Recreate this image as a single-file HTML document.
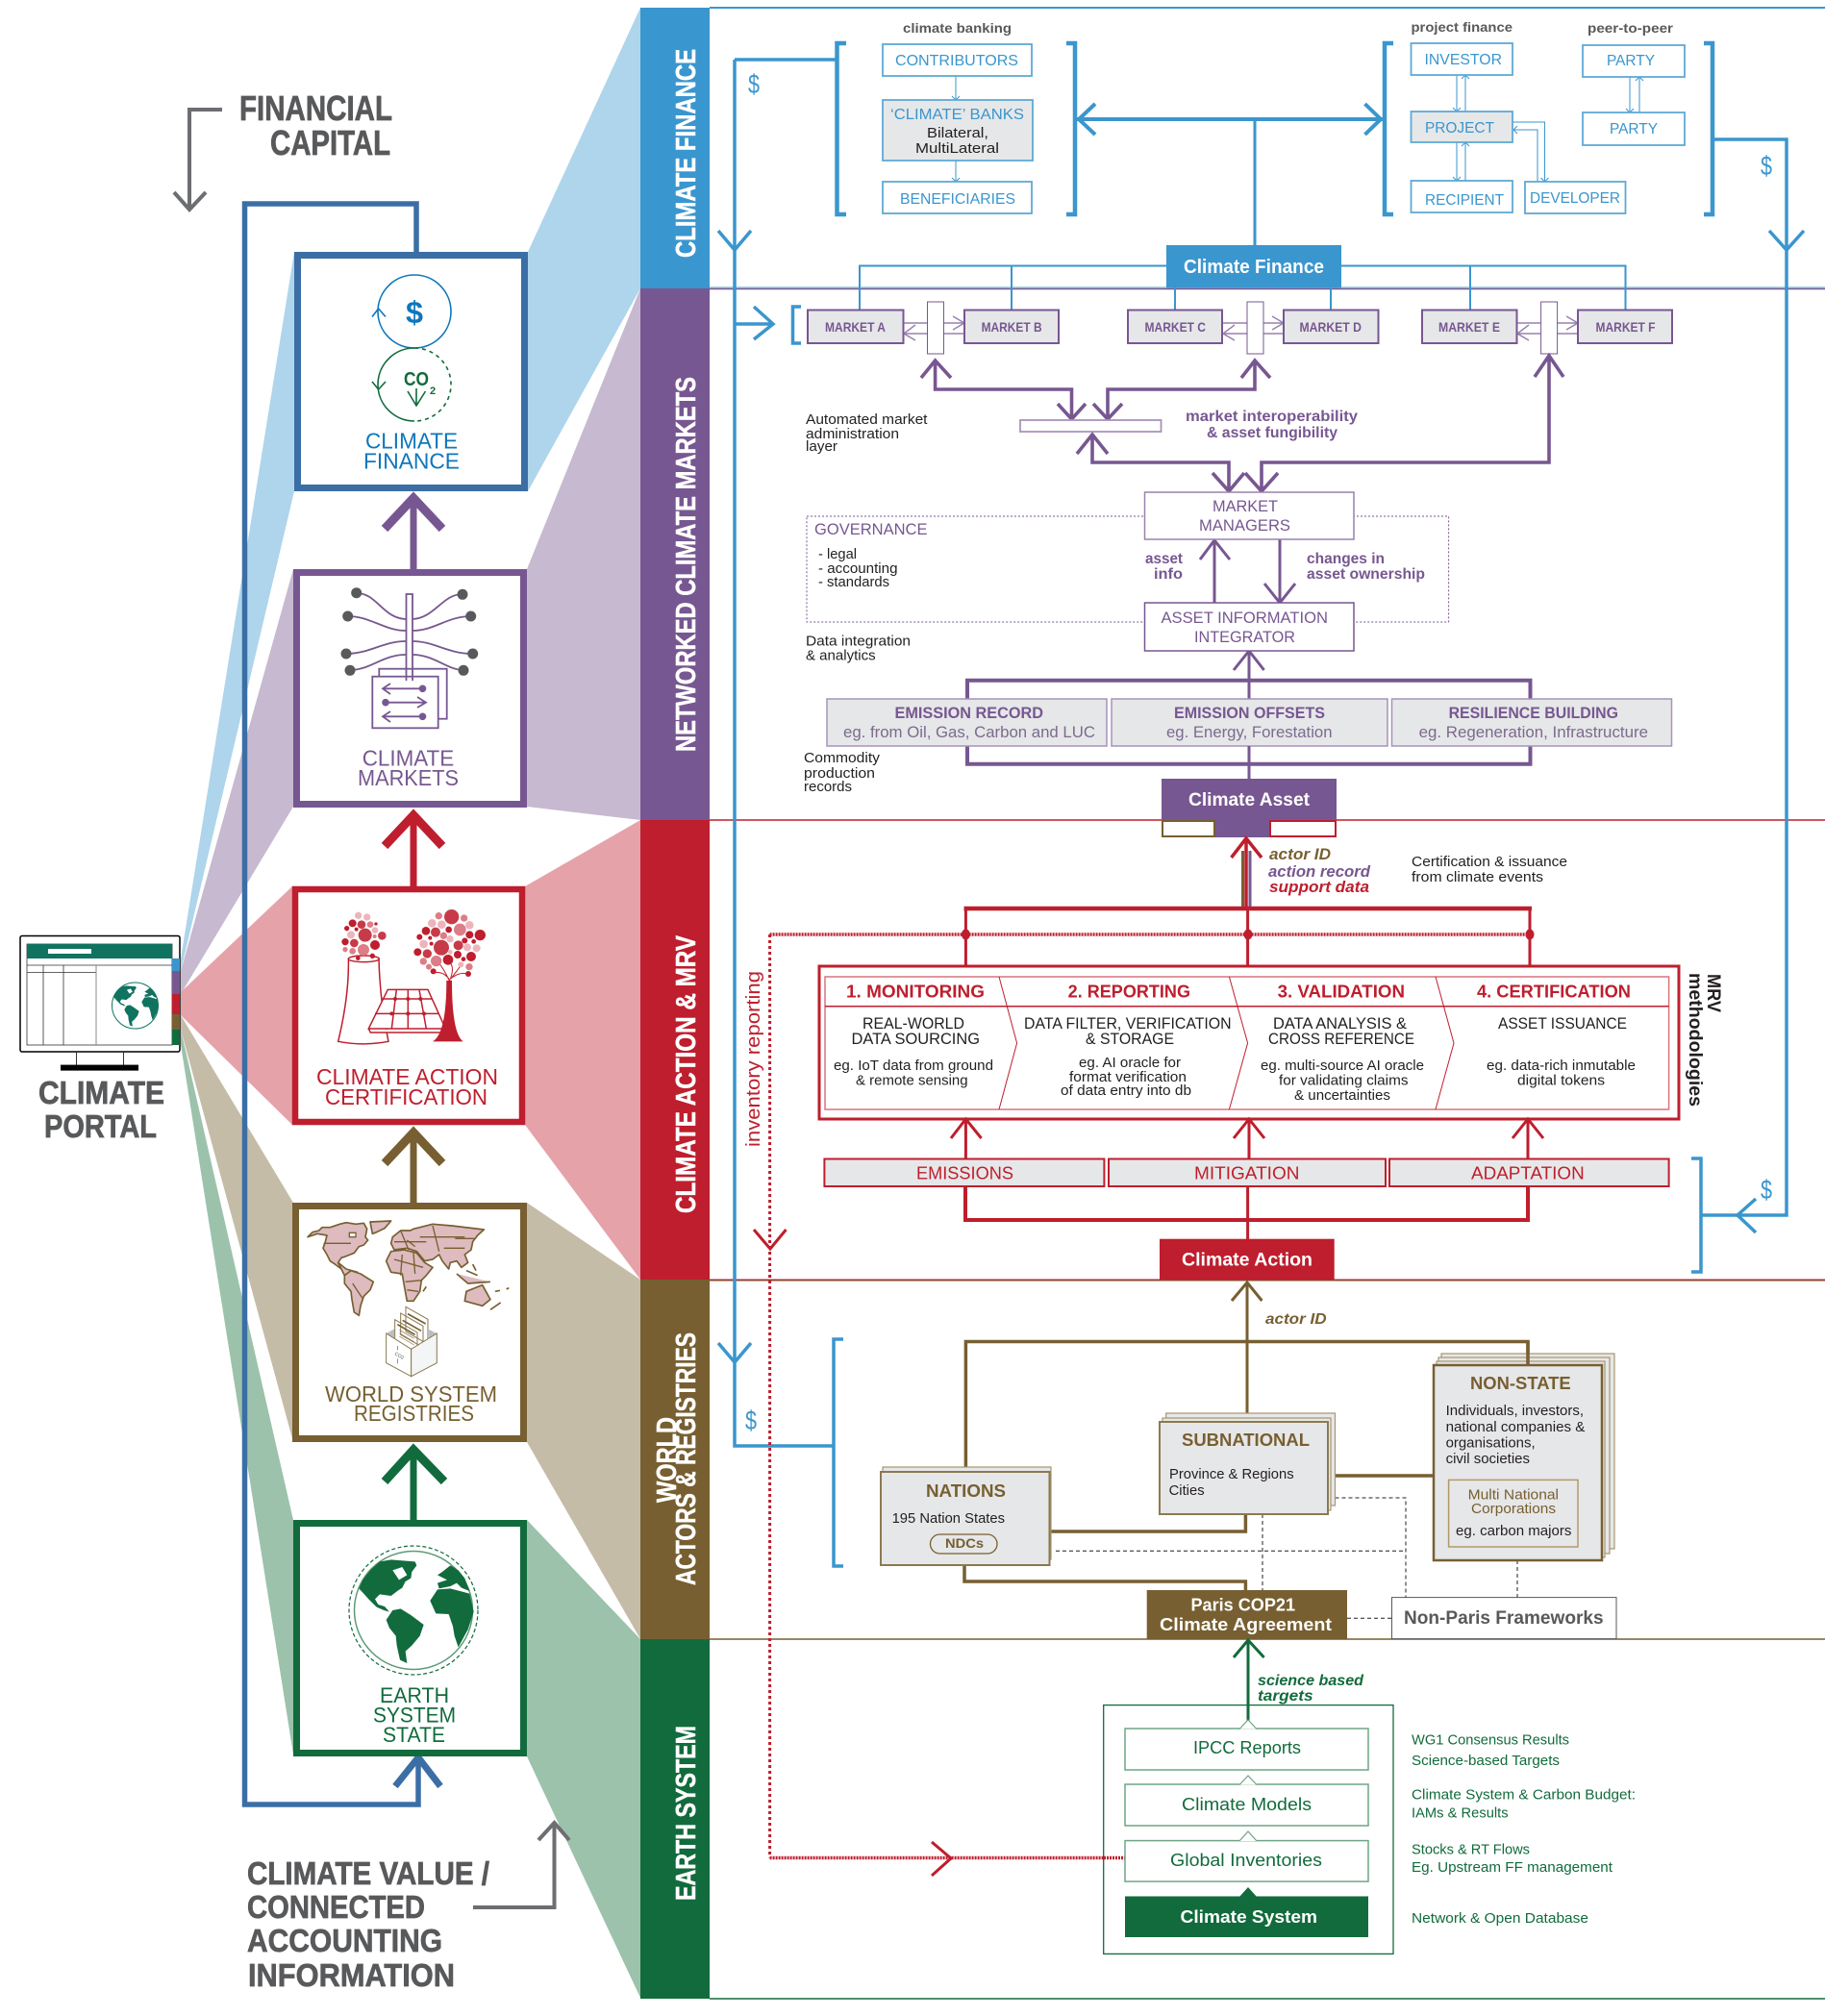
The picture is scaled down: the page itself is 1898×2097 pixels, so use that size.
<!DOCTYPE html>
<html><head><meta charset="utf-8"><style>
html,body{margin:0;padding:0;background:#fff}
svg{display:block}
text{font-family:"Liberation Sans",sans-serif;white-space:pre}
.b{font-weight:bold}.i{font-style:italic}
.wh{fill:#fff}.bl{fill:#3A96CE}.pu{fill:#775791}.re{fill:#BE1E2D}.br{fill:#775F31}.gr{fill:#126B3C}.dk{fill:#58595b}.k{fill:#231f20}
.hd{stroke:#58595b;stroke-width:.7}
.bd{stroke:#fff;stroke-width:.5}
.ln{fill:none;stroke-linejoin:miter}
</style></head><body>
<svg xmlns="http://www.w3.org/2000/svg" width="1898" height="2097" viewBox="0 0 1898 2097">
<defs>
<g id="cont">
<path d="M100,172 L112,145 L135,115 L165,88 L200,82 L275,88 L280,100 L265,120 L262,140 L245,150 L235,170 L222,178 L200,195 L165,190 L150,205 L160,222 L180,228 L195,245 L178,240 L155,230 L130,205 L112,185 Z"/>
<path d="M185,270 L205,240 L230,235 L262,255 L302,285 L290,320 L265,350 L245,368 L250,405 L228,395 L218,350 L215,320 L195,295 Z"/>
<path d="M322,210 L345,175 L385,172 L445,188 L458,245 L440,300 L410,355 L398,320 L393,290 L380,252 L340,250 Z"/>
<path d="M345,130 L360,120 L385,100 L410,115 L430,140 L445,180 L420,170 L405,155 L385,165 L350,172 L345,155 L375,145 Z"/>
<path fill="#fff" d="M205,115 L235,105 L250,130 L225,145 Z"/>
</g>
</defs>
<rect width="1898" height="2097" fill="#fff"/>

<!-- fans -->
<polygon fill="#AED5EB" points="666,8 666,300 549,511 549,262"/>
<polygon fill="#AED5EB" points="306,262 306,511 188,1010 188,997"/>
<polygon fill="#C6B9D0" points="666,300 666,853 548,839 548,592"/>
<polygon fill="#C6B9D0" points="305,592 305,839 188,1034 188,1010"/>
<polygon fill="#E6A2A9" points="666,853 666,1331 546,1170 546,922"/>
<polygon fill="#E6A2A9" points="304,922 304,1170 188,1056 188,1032"/>
<polygon fill="#C5BCA8" points="666,1331 666,1705 548,1500 548,1251"/>
<polygon fill="#C5BCA8" points="305,1251 305,1500 188,1071 188,1056"/>
<polygon fill="#9CC2AC" points="666,1705 666,2078 548,1827 548,1581"/>
<polygon fill="#9CC2AC" points="305,1581 305,1825 188,1087 188,1071"/>

<!-- bands -->
<rect x="666" y="8" width="72" height="292" fill="#3A96CE"/>
<rect x="666" y="300" width="72" height="553" fill="#775791"/>
<rect x="666" y="853" width="72" height="478" fill="#BE1E2D"/>
<rect x="666" y="1331" width="72" height="374" fill="#775F31"/>
<rect x="666" y="1705" width="72" height="374" fill="#126B3C"/>
<text class="b wh bd" font-size="29" transform="translate(723 268) rotate(-90)" textLength="217" lengthAdjust="spacingAndGlyphs">CLIMATE FINANCE</text>
<text class="b wh bd" font-size="29" transform="translate(723 782) rotate(-90)" textLength="390" lengthAdjust="spacingAndGlyphs">NETWORKED CLIMATE MARKETS</text>
<text class="b wh bd" font-size="29" transform="translate(723 1262) rotate(-90)" textLength="289" lengthAdjust="spacingAndGlyphs">CLIMATE ACTION &amp; MRV</text>
<text class="b wh bd" font-size="29" transform="translate(703 1563) rotate(-90)" textLength="89" lengthAdjust="spacingAndGlyphs">WORLD</text>
<text class="b wh bd" font-size="29" transform="translate(723 1649) rotate(-90)" textLength="263" lengthAdjust="spacingAndGlyphs">ACTORS &amp; REGISTRIES</text>
<text class="b wh bd" font-size="29" transform="translate(723 1977) rotate(-90)" textLength="182" lengthAdjust="spacingAndGlyphs">EARTH SYSTEM</text>

<!-- horizontal panel lines -->
<path class="ln" stroke="#3A96CE" stroke-width="2" d="M738,8 H1898"/>
<path class="ln" stroke="#8CC3E2" stroke-width="1.5" d="M738,299 H1898"/>
<path class="ln" stroke="#775791" stroke-width="1.5" d="M738,300.5 H1898"/>
<path class="ln" stroke="#BE1E2D" stroke-width="1.5" d="M738,853 H1898"/>
<path class="ln" stroke="#BE1E2D" stroke-width="1" d="M738,1331 H1898"/>
<path class="ln" stroke="#775F31" stroke-width="1" d="M738,1332 H1898"/>
<path class="ln" stroke="#775F31" stroke-width="1.5" d="M738,1705 H1898"/>
<path class="ln" stroke="#126B3C" stroke-width="1.5" d="M738,2079 H1898"/>

<!-- LEFT: labels & outer loop -->
<text class="b dk hd" font-size="36" x="249" y="125" textLength="159" lengthAdjust="spacingAndGlyphs">FINANCIAL</text>
<text class="b dk hd" font-size="36" x="281" y="161" textLength="125" lengthAdjust="spacingAndGlyphs">CAPITAL</text>
<path class="ln" stroke="#6d6e71" stroke-width="4" d="M231,114 H197 V218 M181,200 L197,218 L214,200"/>
<path class="ln" stroke="#3B6EA5" stroke-width="5.5" d="M433,262 V212 H254.5 V1877 H435 V1830"/>
<path class="ln" stroke="#3B6EA5" stroke-width="7" d="M411,1858 L435,1828 L458,1858"/>

<!-- climate finance box -->
<rect x="309.5" y="265.5" width="236" height="242" fill="#fff" stroke="#3B6EA5" stroke-width="7"/>
<circle cx="431" cy="324" r="38" fill="none" stroke="#0E76BC" stroke-width="1.6"/>
<text class="b" fill="#0E76BC" font-size="32" x="422" y="336" textLength="18" lengthAdjust="spacingAndGlyphs">$</text>
<path class="ln" stroke="#0E76BC" stroke-width="1.6" d="M387,329.5 L393.6,321 L401,329.5"/>
<path class="ln" stroke="#126B3C" stroke-width="1.6" d="M431,362 A38,38 0 0 0 431,438"/>
<path class="ln" stroke="#126B3C" stroke-width="1.6" stroke-dasharray="4 4" d="M431,362 A38,38 0 0 1 431,438"/>
<path class="ln" stroke="#126B3C" stroke-width="1.6" d="M387,397 L393.6,405 L401,397 M433,404 V421 M424,407 L433,422 L442.5,407"/>
<text class="b gr" font-size="20" x="420" y="401" textLength="26" lengthAdjust="spacingAndGlyphs">CO</text>
<text class="b gr" font-size="11" x="447" y="410">2</text>
<text style="fill:#0E76BC" font-size="23" x="380" y="466.5" textLength="96" lengthAdjust="spacingAndGlyphs">CLIMATE</text>
<text style="fill:#0E76BC" font-size="23" x="378" y="487.5" textLength="100" lengthAdjust="spacingAndGlyphs">FINANCE</text>

<!-- purple arrow -->
<path class="ln" stroke="#775791" stroke-width="7" d="M430,592 V520"/>
<path class="ln" stroke="#775791" stroke-width="9" d="M400,550 L430,518 L460,550"/>

<!-- markets box -->
<rect x="308.5" y="595.5" width="236" height="241" fill="#fff" stroke="#775791" stroke-width="7"/>
<g fill="none" stroke="#775791" stroke-width="1.8">
<path d="M371,617 C392,617 398,643 422,644 M481,618 C460,618 452,643 429,644 M362,641 C385,641 400,656 422,656 M490,641 C465,641 452,656 429,656 M360,680 C385,680 398,667 422,667 M492,680 C465,680 452,667 429,667 M364,697 C385,697 398,681 422,681 M482,697 C465,697 452,681 429,681"/>
<rect x="422.5" y="618" width="6.5" height="90" fill="#fff"/>
<rect x="394.3" y="695.7" width="70.4" height="52" fill="#fff"/>
<rect x="387.3" y="703.7" width="68.4" height="53.6" fill="#fff"/>
<path d="M422.5,695 V708 M429,695 V708"/>
<path d="M398,716.3 H439 M406,711 L398,716.3 L406,722 M398,730.7 H442 M434,725 L443,730.7 L434,736 M398,745.3 H439 M406,740 L398,745.3 L406,751"/>
</g>
<g fill="#775791"><circle cx="439.5" cy="716.3" r="3.8"/><circle cx="401" cy="730.7" r="3.8"/><circle cx="439.5" cy="745.3" r="3.8"/></g>
<g fill="#58595b"><circle cx="370.7" cy="616.7" r="5.5"/><circle cx="481" cy="618.3" r="5.5"/><circle cx="361.7" cy="641" r="5.5"/><circle cx="489.7" cy="641" r="5.5"/><circle cx="360" cy="680" r="5.5"/><circle cx="491.7" cy="680" r="5.5"/><circle cx="364" cy="697.3" r="5.5"/><circle cx="482" cy="697.3" r="5.5"/></g>
<text class="pu" font-size="23" x="376.7" y="796.5" textLength="95.5" lengthAdjust="spacingAndGlyphs">CLIMATE</text>
<text class="pu" font-size="23" x="372" y="817" textLength="105" lengthAdjust="spacingAndGlyphs">MARKETS</text>

<!-- red arrow -->
<path class="ln" stroke="#BE1E2D" stroke-width="7" d="M430,922 V850"/>
<path class="ln" stroke="#BE1E2D" stroke-width="9" d="M400,880 L430,848 L460,880"/>

<!-- action box -->
<rect x="307" y="925" width="236" height="242" fill="#fff" stroke="#BE1E2D" stroke-width="6.5"/>
<g transform="translate(330 935) scale(.3333)">
<g fill="none" stroke="#BE1E2D" stroke-width="4.5">
<path d="M97,185 Q100,300 65,445 Q140,460 222,445 Q195,320 192,185"/>
<ellipse cx="145" cy="187" rx="48" ry="10"/>
<path fill="#fff" d="M220,283 H345 L400,405 H160 Z M160,405 L166,417 H400"/>
<path d="M247,283 L232,405 M283,283 L283,405 M318,283 L340,405 M203,312 H358 M180,358 H380"/>
<path stroke-width="3" d="M415,255 Q395,225 365,230 M415,250 Q430,210 410,195 M415,250 Q445,225 470,235 M412,255 Q385,200 372,195 M420,245 L450,205"/>
</g>
<path fill="#BE1E2D" d="M360,445 Q403,420 403,255 L420,255 Q420,420 455,445 Z"/>
<g fill="#BE1E2D"><circle cx="243" cy="312" r="6"/><circle cx="283" cy="312" r="6"/><circle cx="322" cy="312" r="6"/><circle cx="232" cy="358" r="6"/><circle cx="283" cy="358" r="6"/><circle cx="333" cy="358" r="6"/>
<circle cx="110" cy="76" r="12"/><circle cx="183" cy="78" r="5"/><circle cx="92" cy="92" r="8"/><circle cx="122" cy="95" r="6"/><circle cx="87" cy="134" r="11"/><circle cx="180" cy="144" r="15"/><circle cx="127" cy="185" r="7"/><circle cx="172" cy="178" r="8"/>
<circle cx="339" cy="100" r="13"/><circle cx="410" cy="96" r="10"/><circle cx="508" cy="113" r="17"/><circle cx="319" cy="119" r="9"/><circle cx="352" cy="122" r="6"/><circle cx="475" cy="112" r="12"/><circle cx="460" cy="130" r="9"/><circle cx="488" cy="133" r="7"/><circle cx="356" cy="140" r="6"/><circle cx="313" cy="166" r="12"/><circle cx="438" cy="174" r="12"/><circle cx="480" cy="180" r="15"/><circle cx="456" cy="188" r="7"/><circle cx="408" cy="190" r="16"/><circle cx="362" cy="226" r="9"/><circle cx="471" cy="234" r="9"/></g>
<g fill="#C73B48"><circle cx="138" cy="80" r="13"/><circle cx="149" cy="113" r="21"/><circle cx="202" cy="115" r="13"/><circle cx="115" cy="138" r="13"/>
<circle cx="419" cy="56" r="23"/><circle cx="369" cy="104" r="15"/><circle cx="387" cy="152" r="24"/><circle cx="440" cy="145" r="15"/><circle cx="343" cy="171" r="14"/></g>
<g fill="#DC7D87"><circle cx="165" cy="80" r="10"/><circle cx="179" cy="117" r="6"/><circle cx="87" cy="158" r="8"/><circle cx="110" cy="163" r="10"/><circle cx="144" cy="159" r="18"/>
<circle cx="379" cy="53" r="11"/><circle cx="458" cy="60" r="11"/><circle cx="445" cy="96" r="19"/><circle cx="394" cy="115" r="11"/><circle cx="331" cy="195" r="11"/><circle cx="371" cy="194" r="17"/><circle cx="348" cy="212" r="9"/><circle cx="474" cy="212" r="11"/></g>
<g fill="#EDB5BB"><circle cx="128" cy="52" r="11"/><circle cx="155" cy="57" r="11"/><circle cx="180" cy="98" r="10"/><circle cx="105" cy="112" r="12"/>
<circle cx="358" cy="76" r="13"/><circle cx="388" cy="80" r="13"/><circle cx="475" cy="82" r="13"/><circle cx="414" cy="125" r="11"/><circle cx="332" cy="141" r="13"/><circle cx="468" cy="151" r="12"/><circle cx="497" cy="154" r="12"/><circle cx="415" cy="166" r="7"/><circle cx="448" cy="205" r="9"/></g>
</g>
<text class="re" font-size="23" x="329" y="1128" textLength="189" lengthAdjust="spacingAndGlyphs">CLIMATE ACTION</text>
<text class="re" font-size="23" x="338" y="1149" textLength="169" lengthAdjust="spacingAndGlyphs">CERTIFICATION</text>

<!-- brown arrow -->
<path class="ln" stroke="#775F31" stroke-width="7" d="M430,1251 V1180"/>
<path class="ln" stroke="#775F31" stroke-width="9" d="M400,1210 L430,1178 L460,1210"/>

<!-- registries box -->
<rect x="307.5" y="1254.5" width="237" height="242" fill="#fff" stroke="#775F31" stroke-width="7"/>
<g transform="translate(310 1255) scale(.3333)">
<g fill="#DDBBBF" stroke="#775F31" stroke-width="5" stroke-linejoin="round">
<path d="M30,95 L45,80 L65,75 L75,65 L100,65 L130,55 L150,50 L180,55 L205,52 L215,70 L210,95 L218,105 L205,120 L190,125 L175,145 L150,155 L135,160 L125,175 L135,195 L115,180 L100,170 L90,150 L78,130 L85,110 L90,90 L60,85 Z"/>
<path d="M225,48 L290,45 L270,68 L245,80 L232,85 Z"/>
<path d="M125,175 L150,195 L185,205 L165,205 L145,215 Z"/>
<path d="M145,215 L165,200 L195,210 L235,235 L225,260 L205,280 L195,310 L190,340 L175,330 L168,290 L165,265 L145,240 Z"/>
<path d="M275,170 L290,140 L330,135 L370,145 L395,175 L420,190 L400,215 L385,230 L380,265 L360,295 L340,295 L330,240 L325,210 L290,205 Z"/>
<path d="M290,115 L295,95 L320,75 L350,75 L360,70 L420,55 L480,60 L580,72 L560,90 L545,110 L540,135 L520,150 L530,175 L510,190 L495,170 L475,175 L470,195 L450,170 L440,150 L420,165 L395,170 L370,140 L340,130 L300,135 Z"/>
<path d="M520,295 L525,265 L575,245 L600,290 L575,310 Z"/>
<path d="M600,322 L632,300 M495,210 L530,240 L600,235 M525,200 L560,215 M545,180 L555,200 M390,265 L400,250 M615,265 L630,262 M650,258 L658,254"/>
<path fill="none" stroke-width="4" d="M80,115 H165 M320,75 L345,135 M300,110 H400 M420,60 L440,140 M490,100 H550 M300,165 L390,190 M325,150 L320,215 M360,145 L365,210 M335,235 L385,230 M340,260 L375,265 M170,240 L200,285 M380,95 H520 M455,130 H520 M340,105 L365,125"/>
</g>
<path fill="#fff" stroke="#775F31" stroke-width="4" d="M160,82 H180 V95 H160 Z"/>
<path fill="#fff" stroke="#8a7850" stroke-width="3" d="M336,313 L405,352 L405,430 L336,390 Z M320,333 L390,373 L390,440 L320,400 Z M302,353 L372,393 L372,470 L302,430 Z"/>
<path fill="none" stroke="#775F31" stroke-width="5" d="M342,335 L398,366 M326,355 L384,388 M310,368 L365,400"/>
<path fill="none" stroke="#8a7850" stroke-width="2" d="M316,385 L362,412 M316,395 L362,422 M316,405 L362,432"/>
<path fill="#bcbec0" d="M275,396 L300,382 L300,420 Z M433,396 L405,382 L405,414 Z"/>
<path fill="#fff" stroke="#8a7850" stroke-width="3" d="M275,396 L353,445 L353,530 L275,488 Z"/>
<path fill="#f4f5f6" stroke="#8a7850" stroke-width="3" d="M353,445 L433,396 L433,488 L353,530 Z"/>
<path fill="none" stroke="#58595b" stroke-width="2" d="M310,435 V448 M310,475 V490"/>
<text font-size="15" fill="#58595b" transform="translate(300 462) rotate(30)">CO2</text>
</g>
<text class="br" font-size="23" x="338" y="1458" textLength="179" lengthAdjust="spacingAndGlyphs">WORLD SYSTEM</text>
<text class="br" font-size="23" x="368" y="1478" textLength="125" lengthAdjust="spacingAndGlyphs">REGISTRIES</text>

<!-- green arrow -->
<path class="ln" stroke="#126B3C" stroke-width="7" d="M430,1581 V1510"/>
<path class="ln" stroke="#126B3C" stroke-width="9" d="M400,1541 L430,1508 L462,1541"/>

<!-- earth box -->
<rect x="308.5" y="1584.5" width="236" height="239" fill="#fff" stroke="#126B3C" stroke-width="7"/>
<circle cx="430" cy="1675" r="67" fill="none" stroke="#126B3C" stroke-width="1.2" stroke-dasharray="4 2.5"/>
<circle cx="430" cy="1675" r="61.5" fill="none" stroke="#5e9a78" stroke-width="1.5"/>
<use href="#cont" transform="translate(340 1595) scale(.3333)" fill="#126B3C"/>
<text class="gr" font-size="22" x="395" y="1771" textLength="72" lengthAdjust="spacingAndGlyphs">EARTH</text>
<text class="gr" font-size="22" x="388" y="1791.5" textLength="86" lengthAdjust="spacingAndGlyphs">SYSTEM</text>
<text class="gr" font-size="22" x="398" y="1812" textLength="65" lengthAdjust="spacingAndGlyphs">STATE</text>

<text class="b dk hd" font-size="33" x="257" y="1960" textLength="252" lengthAdjust="spacingAndGlyphs">CLIMATE VALUE /</text>
<text class="b dk hd" font-size="33" x="257" y="1995" textLength="185" lengthAdjust="spacingAndGlyphs">CONNECTED</text>
<text class="b dk hd" font-size="33" x="257" y="2030" textLength="203" lengthAdjust="spacingAndGlyphs">ACCOUNTING</text>
<text class="b dk hd" font-size="33" x="258" y="2066" textLength="215" lengthAdjust="spacingAndGlyphs">INFORMATION</text>
<path class="ln" stroke="#6d6e71" stroke-width="4" d="M492,1984 H576.5 V1898 M560,1914 L576.5,1896 L592,1914"/>

<!-- portal -->
<rect x="21" y="973.5" width="166" height="120.5" rx="2" fill="#fff" stroke="#000" stroke-width="1.5"/>
<rect x="28" y="982" width="151" height="105" fill="#fff" stroke="#333" stroke-width=".8"/>
<rect x="28" y="982" width="151" height="15" fill="#0F7360"/>
<rect x="50" y="987" width="45" height="5" fill="#fff"/>
<path class="ln" stroke="#333" stroke-width=".8" d="M28,1004 H179 M28,1011.5 H100 M45,1004 V1087 M66,1004 V1087"/>
<path class="ln" stroke="#888" stroke-width="1" d="M100,1004 V1087"/>
<rect x="179" y="997" width="8" height="13" fill="#3A96CE"/>
<rect x="179" y="1010" width="8" height="24" fill="#775791"/>
<rect x="179" y="1034" width="8" height="21" fill="#BE1E2D"/>
<rect x="179" y="1055" width="8" height="16" fill="#775F31"/>
<rect x="179" y="1071" width="8" height="16" fill="#126B3C"/>
<ellipse cx="140.5" cy="1046" rx="24" ry="24" fill="#fff" stroke="#0F7360" stroke-width="1"/>
<use href="#cont" transform="translate(105.1 1014.6) scale(.131)" fill="#0F7360"/>
<path class="ln" stroke="#333" stroke-width="1" d="M79.5,1094 V1108 M128.5,1094 V1108"/>
<rect x="63" y="1107.6" width="81" height="6" fill="#000"/>
<text class="b dk hd" font-size="33" x="40" y="1148" textLength="131" lengthAdjust="spacingAndGlyphs">CLIMATE</text>
<text class="b dk hd" font-size="33" x="46" y="1183" textLength="117" lengthAdjust="spacingAndGlyphs">PORTAL</text>

<!-- ========== CLIMATE FINANCE SECTION ========== -->
<g class="ln" fill="none" stroke="#3A96CE">
<path stroke-width="3.5" d="M764,62 H871"/>
<path stroke-width="3.5" d="M764,62 V1504 H866"/>
<path stroke-width="3.5" d="M747,240 L764,260 L781,240"/>
<path stroke-width="3.5" d="M747,1397 L764,1417 L781,1397"/>
<path stroke-width="4.5" d="M880,45 H870.5 V223 H880 M1109,45 H1118 V223 H1109"/>
<path stroke-width="4" d="M1120,124 H1438 M1139,108 L1122,124 L1139,140 M1419.5,108 L1436,124 L1419.5,140"/>
<path stroke-width="3" d="M1305,124 V255"/>
<path stroke-width="4.5" d="M1449,45 H1440 V223 H1449 M1772,45 H1781 V223 H1772"/>
<path stroke-width="3.5" d="M1781,145 H1858 V1264 H1770"/>
<path stroke-width="3.5" d="M1840,240 L1858,260 L1876,240"/>
<path stroke-width="3.5" d="M1826,1247 L1807,1264 L1826,1282"/>
<path stroke-width="3.5" d="M1759,1205 H1769 V1323 H1759"/>
<path stroke-width="3.5" d="M877,1393 H867 V1629 H877"/>
<path stroke-width="3.5" d="M764,337 H803 M784,319 L804,337 L784,353 M833,319 H824.5 V357 H833"/>
<path stroke-width="2" d="M894,322 V276.5 H1213 M1052,276 V322 M1395,276.5 H1690.5 V322 M1529,276 V322 M1222,299 V322 M1384,299 V322"/>
<path stroke-width="1" d="M994,79 V104 M990,100 L994,104 L998,100 M994,167 V189 M990,185 L994,189 L998,185 M1515,78 V116 M1511,112 L1515,116 L1519,112 M1524,116 V78 M1520,82 L1524,78 L1528,82 M1515,148 V188 M1511,184 L1515,188 L1519,184 M1524,188 V148 M1520,152 L1524,148 L1528,152 M1695,80 V117 M1691,113 L1695,117 L1699,113 M1705,117 V80 M1701,84 L1705,80 L1709,84 M1573,127 H1606.5 V189 M1602.5,185 L1606.5,189 L1610.5,185 M1599,189 V135 H1574 M1578,131 L1574,135 L1578,139"/>
</g>
<rect x="1213" y="255" width="182" height="44.5" fill="#3A96CE"/>
<text class="b wh" font-size="20" x="1231" y="284" textLength="146" lengthAdjust="spacingAndGlyphs">Climate Finance</text>
<g fill="#fff" stroke="#5EA9D6" stroke-width="1.8">
<rect x="918" y="46" width="155" height="33"/>
<rect x="918" y="104" width="156" height="63" fill="#E6E7E8"/>
<rect x="918" y="189" width="155" height="33"/>
<rect x="1467.5" y="45" width="105.5" height="33"/>
<rect x="1467.5" y="116" width="105.5" height="32" fill="#E6E7E8"/>
<rect x="1467.5" y="188" width="105.5" height="33"/>
<rect x="1586" y="189" width="104.5" height="33"/>
<rect x="1646" y="47" width="106" height="33"/>
<rect x="1646" y="117" width="106" height="34"/>
</g>
<text class="b dk" font-size="14" x="939" y="34" textLength="113" lengthAdjust="spacingAndGlyphs">climate banking</text>
<text class="b dk" font-size="14" x="1467.5" y="33" textLength="105.5" lengthAdjust="spacingAndGlyphs">project finance</text>
<text class="b dk" font-size="14" x="1651" y="34" textLength="89" lengthAdjust="spacingAndGlyphs">peer-to-peer</text>
<text class="bl" font-size="16" x="931" y="68" textLength="128" lengthAdjust="spacingAndGlyphs">CONTRIBUTORS</text>
<text class="bl" font-size="16" x="926" y="124" textLength="139" lengthAdjust="spacingAndGlyphs">‘CLIMATE’ BANKS</text>
<text class="k" font-size="15" x="964" y="143" textLength="64" lengthAdjust="spacingAndGlyphs">Bilateral,</text>
<text class="k" font-size="15" x="952" y="159" textLength="87" lengthAdjust="spacingAndGlyphs">MultiLateral</text>
<text class="bl" font-size="16" x="936" y="212" textLength="120" lengthAdjust="spacingAndGlyphs">BENEFICIARIES</text>
<text class="bl" font-size="16" x="1481.5" y="67" textLength="80.5" lengthAdjust="spacingAndGlyphs">INVESTOR</text>
<text class="bl" font-size="16" x="1482" y="138" textLength="72" lengthAdjust="spacingAndGlyphs">PROJECT</text>
<text class="bl" font-size="16" x="1482" y="213" textLength="82" lengthAdjust="spacingAndGlyphs">RECIPIENT</text>
<text class="bl" font-size="16" x="1591" y="211" textLength="94" lengthAdjust="spacingAndGlyphs">DEVELOPER</text>
<text class="bl" font-size="16" x="1671" y="68" textLength="50" lengthAdjust="spacingAndGlyphs">PARTY</text>
<text class="bl" font-size="16" x="1674" y="139" textLength="50" lengthAdjust="spacingAndGlyphs">PARTY</text>
<text class="bl" font-size="28" x="778" y="97" textLength="12" lengthAdjust="spacingAndGlyphs">$</text>
<text class="bl" font-size="28" x="1831" y="182" textLength="12" lengthAdjust="spacingAndGlyphs">$</text>
<text class="bl" font-size="28" x="1831" y="1247" textLength="12" lengthAdjust="spacingAndGlyphs">$</text>
<text class="bl" font-size="28" x="775" y="1487" textLength="12" lengthAdjust="spacingAndGlyphs">$</text>

<!-- ========== MARKETS ========== -->
<g fill="none" stroke="#9A81AE" stroke-width="1.5">
<path d="M939,336 H1003 M991,329 L1003,336 L991,343 M952,338 L940,347 L952,354 M940,347 H1003"/>
<path d="M1271,336 H1335 M1323,329 L1335,336 L1323,343 M1284,338 L1272,347 L1284,354 M1272,347 H1335"/>
<path d="M1577,336 H1641 M1629,329 L1641,336 L1629,343 M1590,338 L1578,347 L1590,354 M1578,347 H1641"/>
</g>
<g fill="#fff" stroke="#775791" stroke-width="1"><rect x="964.5" y="314" width="17" height="54"/><rect x="1297" y="314" width="17" height="54"/><rect x="1602.6" y="314" width="17" height="54"/></g>
<g fill="#E6E7E8" stroke="#775791" stroke-width="2">
<rect x="840" y="322.5" width="99.5" height="34.5"/><rect x="1003" y="322.5" width="98" height="34.5"/>
<rect x="1173" y="322.5" width="98" height="34.5"/><rect x="1335" y="322.5" width="98.5" height="34.5"/>
<rect x="1479" y="322.5" width="98.5" height="34.5"/><rect x="1641" y="322.5" width="98" height="34.5"/>
</g>
<text class="b pu" font-size="14" x="858" y="345" textLength="63" lengthAdjust="spacingAndGlyphs">MARKET A</text>
<text class="b pu" font-size="14" x="1020.6" y="345" textLength="63" lengthAdjust="spacingAndGlyphs">MARKET B</text>
<text class="b pu" font-size="14" x="1190.5" y="345" textLength="63.5" lengthAdjust="spacingAndGlyphs">MARKET C</text>
<text class="b pu" font-size="14" x="1351.5" y="345" textLength="64.5" lengthAdjust="spacingAndGlyphs">MARKET D</text>
<text class="b pu" font-size="14" x="1496" y="345" textLength="64" lengthAdjust="spacingAndGlyphs">MARKET E</text>
<text class="b pu" font-size="14" x="1659.5" y="345" textLength="62" lengthAdjust="spacingAndGlyphs">MARKET F</text>

<g fill="none" stroke="#775791" stroke-width="3.6">
<path d="M972.6,377 V405 H1114.5 V434 M958,393 L972.6,375 L989,393 M1100,420 L1114.5,436 L1129,420"/>
<path d="M1305,377 V405 H1152 V434 M1291,393 L1305,375 L1321,393 M1137,420 L1152,436 L1167,420"/>
<path d="M1611,372 V481 H1312 V509 M1596,392 L1611,370 L1626,392 M1295,492 L1312,511 L1329,492"/>
<path d="M1136,454 V481 H1278 V509 M1120,472 L1136,452 L1152,472 M1261,492 L1278,511 L1294,492"/>
<path stroke-width="3" d="M1263,627 V564 M1248,582 L1263,562 L1279,582"/>
<path stroke-width="3" d="M1331,561 V625 M1315,607 L1331,627 L1347,607"/>
<path stroke-width="3" d="M1299,810 V679 M1283,697 L1299,677 L1314.6,697"/>
<path stroke-width="4" d="M1006,727 V707.7 H1591.5 V727"/>
<path stroke-width="4" d="M1006,776 V794.7 H1591.5 V776"/>
</g>
<rect x="1061" y="437" width="146.5" height="12" fill="#fff" stroke="#A793BB" stroke-width="1.8"/>
<rect x="839" y="537" width="667.6" height="110" fill="none" stroke="#775791" stroke-width="1" stroke-dasharray="2 2"/>
<rect x="1190.5" y="512" width="217.5" height="49" fill="#fff" stroke="#9A81AE" stroke-width="1.5"/>
<rect x="1190.5" y="627" width="217.5" height="50" fill="#fff" stroke="#775791" stroke-width="1.5"/>
<text class="b pu" font-size="16" x="1233" y="438" textLength="179" lengthAdjust="spacingAndGlyphs">market interoperability</text>
<text class="b pu" font-size="16" x="1255" y="455" textLength="136" lengthAdjust="spacingAndGlyphs">&amp; asset fungibility</text>
<text class="k" font-size="14.5" x="838" y="441" textLength="126.5" lengthAdjust="spacingAndGlyphs">Automated market</text>
<text class="k" font-size="14.5" x="838" y="456" textLength="97" lengthAdjust="spacingAndGlyphs">administration</text>
<text class="k" font-size="14.5" x="838" y="469" textLength="33" lengthAdjust="spacingAndGlyphs">layer</text>
<text class="pu" font-size="17" x="1261" y="532" textLength="68" lengthAdjust="spacingAndGlyphs">MARKET</text>
<text class="pu" font-size="17" x="1247" y="552" textLength="95" lengthAdjust="spacingAndGlyphs">MANAGERS</text>
<text class="pu" font-size="17" x="847" y="556" textLength="117.5" lengthAdjust="spacingAndGlyphs">GOVERNANCE</text>
<text class="k" font-size="14.5" x="851" y="581" textLength="40" lengthAdjust="spacingAndGlyphs">- legal</text>
<text class="k" font-size="14.5" x="851" y="596" textLength="82.5" lengthAdjust="spacingAndGlyphs">- accounting</text>
<text class="k" font-size="14.5" x="851" y="610" textLength="74" lengthAdjust="spacingAndGlyphs">- standards</text>
<text class="b pu" font-size="16" x="1191" y="586" textLength="39" lengthAdjust="spacingAndGlyphs">asset</text>
<text class="b pu" font-size="16" x="1200" y="602" textLength="30" lengthAdjust="spacingAndGlyphs">info</text>
<text class="b pu" font-size="16" x="1359" y="586" textLength="81" lengthAdjust="spacingAndGlyphs">changes in</text>
<text class="b pu" font-size="16" x="1359" y="602" textLength="123" lengthAdjust="spacingAndGlyphs">asset ownership</text>
<text class="pu" font-size="17" x="1207.5" y="648" textLength="173.5" lengthAdjust="spacingAndGlyphs">ASSET INFORMATION</text>
<text class="pu" font-size="17" x="1242" y="668" textLength="105" lengthAdjust="spacingAndGlyphs">INTEGRATOR</text>
<text class="k" font-size="14.5" x="838" y="671.7" textLength="109" lengthAdjust="spacingAndGlyphs">Data integration</text>
<text class="k" font-size="14.5" x="838" y="686.7" textLength="72.6" lengthAdjust="spacingAndGlyphs">&amp; analytics</text>
<g fill="#E6E7E8" stroke="#A793BB" stroke-width="1.5">
<rect x="860" y="727" width="291" height="49"/><rect x="1156" y="727" width="287" height="49"/><rect x="1447.5" y="727" width="291" height="49"/>
</g>
<text class="b pu" font-size="17" x="930.5" y="747" textLength="154.5" lengthAdjust="spacingAndGlyphs">EMISSION RECORD</text>
<text fill="#7D6A8F" font-size="17" x="877" y="767" textLength="262" lengthAdjust="spacingAndGlyphs">eg. from Oil, Gas, Carbon and LUC</text>
<text class="b pu" font-size="17" x="1221" y="747" textLength="157" lengthAdjust="spacingAndGlyphs">EMISSION OFFSETS</text>
<text fill="#7D6A8F" font-size="17" x="1213" y="767" textLength="172.5" lengthAdjust="spacingAndGlyphs">eg. Energy, Forestation</text>
<text class="b pu" font-size="17" x="1506.6" y="747" textLength="176.4" lengthAdjust="spacingAndGlyphs">RESILIENCE BUILDING</text>
<text fill="#7D6A8F" font-size="17" x="1475.6" y="767" textLength="238.4" lengthAdjust="spacingAndGlyphs">eg. Regeneration, Infrastructure</text>
<text class="k" font-size="14.5" x="836" y="793" textLength="79" lengthAdjust="spacingAndGlyphs">Commodity</text>
<text class="k" font-size="14.5" x="836" y="809" textLength="74" lengthAdjust="spacingAndGlyphs">production</text>
<text class="k" font-size="14.5" x="836" y="823" textLength="50" lengthAdjust="spacingAndGlyphs">records</text>
<path class="ln" stroke="#775791" stroke-width="3" d="M1299,776 V810"/>
<rect x="1208" y="810" width="182" height="61" fill="#775791"/>
<rect x="1209" y="854" width="54" height="16" fill="#fff" stroke="#775F31" stroke-width="2"/>
<rect x="1321" y="854" width="68" height="16" fill="#fff" stroke="#BE1E2D" stroke-width="2"/>
<text class="b wh" font-size="19" x="1236" y="838" textLength="126" lengthAdjust="spacingAndGlyphs">Climate Asset</text>

<!-- ========== ACTION & MRV ========== -->
<path class="ln" stroke="#775F31" stroke-width="3" d="M1292.5,945 V885"/>
<path class="ln" stroke="#775791" stroke-width="3" d="M1300,945 V885"/>
<path class="ln" stroke="#BE1E2D" stroke-width="3.5" d="M1296,945 V873 M1280.6,892 L1296,872 L1312,892"/>
<text class="b i br" font-size="17" x="1320" y="894" textLength="64" lengthAdjust="spacingAndGlyphs">actor ID</text>
<text class="b i pu" font-size="17" x="1319" y="912" textLength="106" lengthAdjust="spacingAndGlyphs">action record</text>
<text class="b i re" font-size="17" x="1320" y="928" textLength="104" lengthAdjust="spacingAndGlyphs">support data</text>
<text class="k" font-size="14.5" x="1468" y="901" textLength="162" lengthAdjust="spacingAndGlyphs">Certification &amp; issuance</text>
<text class="k" font-size="14.5" x="1468" y="917" textLength="137" lengthAdjust="spacingAndGlyphs">from climate events</text>
<g fill="none" stroke="#BE1E2D">
<path stroke-width="4.5" d="M1002.5,945 H1593"/>
<path stroke-width="3" d="M1004.4,945 V1005 M1297.6,945 V1005 M1591,945 V1005"/>
<path stroke-width="3.5" stroke-dasharray="2 1" d="M800.6,972 H1591"/>
<path stroke-width="3" stroke-dasharray="3 3" d="M800.6,972 V1932.5"/>
<path stroke-width="3.5" stroke-dasharray="2 1" d="M800.6,1932.5 H1148"/>
<path stroke-width="3" d="M784,1279 L801,1299 L817.5,1279"/>
<path stroke-width="3" d="M969,1916 L989,1933 L969,1951"/>
<rect stroke-width="3" x="852" y="1005" width="894" height="159" fill="#fff"/>
<rect stroke="#D9747E" stroke-width="1.5" x="858" y="1016" width="877.6" height="138"/>
<path stroke-width="1.5" d="M858,1046.7 H1735.6"/>
<path stroke-width="1" d="M1039,1016 L1057.6,1085 L1039,1154 M1278.4,1016 L1297.6,1085 L1278.4,1154 M1493,1016 L1512,1085 L1493,1154"/>
<path stroke-width="3" d="M1004.4,1205 V1166 M989,1184 L1004.4,1164 L1020.6,1184 M1299,1205 V1166 M1283,1184 L1299,1164 L1315,1184 M1589,1205 V1166 M1573,1184 L1589,1164 L1605,1184"/>
<path stroke-width="4" d="M1004,1234 V1269 H1589 V1234"/>
<path stroke-width="3" d="M1297.6,1234 V1290"/>
</g>
<g fill="#BE1E2D"><ellipse cx="1004.4" cy="972" rx="4.5" ry="5.5"/><ellipse cx="1298" cy="972" rx="4.5" ry="5.5"/><ellipse cx="1591" cy="972" rx="4.5" ry="5.5"/></g>
<text class="re" font-size="20" transform="translate(790 1193) rotate(-90)" textLength="183" lengthAdjust="spacingAndGlyphs">inventory reporting</text>
<text class="b re" font-size="18" x="880" y="1037.7" textLength="144" lengthAdjust="spacingAndGlyphs">1. MONITORING</text>
<text class="b re" font-size="18" x="1110.7" y="1037.7" textLength="127.3" lengthAdjust="spacingAndGlyphs">2. REPORTING</text>
<text class="b re" font-size="18" x="1328.6" y="1037.7" textLength="132.4" lengthAdjust="spacingAndGlyphs">3. VALIDATION</text>
<text class="b re" font-size="18" x="1536" y="1037.7" textLength="160" lengthAdjust="spacingAndGlyphs">4. CERTIFICATION</text>
<g class="k" font-size="16.5">
<text x="897" y="1070" textLength="106" lengthAdjust="spacingAndGlyphs">REAL-WORLD</text>
<text x="885.5" y="1086" textLength="133.5" lengthAdjust="spacingAndGlyphs">DATA SOURCING</text>
<text x="1065" y="1070" textLength="215.6" lengthAdjust="spacingAndGlyphs">DATA FILTER, VERIFICATION</text>
<text x="1129" y="1086" textLength="92" lengthAdjust="spacingAndGlyphs">&amp; STORAGE</text>
<text x="1324" y="1070" textLength="139" lengthAdjust="spacingAndGlyphs">DATA ANALYSIS &amp;</text>
<text x="1319" y="1086" textLength="152" lengthAdjust="spacingAndGlyphs">CROSS REFERENCE</text>
<text x="1558" y="1070" textLength="134" lengthAdjust="spacingAndGlyphs">ASSET ISSUANCE</text>
</g>
<g class="k" font-size="14.5">
<text x="867" y="1113" textLength="166" lengthAdjust="spacingAndGlyphs">eg. IoT data from ground</text>
<text x="890" y="1128.7" textLength="116.6" lengthAdjust="spacingAndGlyphs">&amp; remote sensing</text>
<text x="1122" y="1110" textLength="106" lengthAdjust="spacingAndGlyphs">eg. AI oracle for</text>
<text x="1112" y="1125" textLength="122" lengthAdjust="spacingAndGlyphs">format verification</text>
<text x="1103" y="1139" textLength="136" lengthAdjust="spacingAndGlyphs">of data entry into db</text>
<text x="1311" y="1113" textLength="170" lengthAdjust="spacingAndGlyphs">eg. multi-source AI oracle</text>
<text x="1330" y="1128.7" textLength="134.5" lengthAdjust="spacingAndGlyphs">for validating claims</text>
<text x="1346" y="1144" textLength="100" lengthAdjust="spacingAndGlyphs">&amp; uncertainties</text>
<text x="1546" y="1113" textLength="155" lengthAdjust="spacingAndGlyphs">eg. data-rich inmutable</text>
<text x="1578" y="1128.7" textLength="91" lengthAdjust="spacingAndGlyphs">digital tokens</text>
</g>
<text class="b k" font-size="19" transform="translate(1776 1013) rotate(90)" textLength="40" lengthAdjust="spacingAndGlyphs">MRV</text>
<text class="b k" font-size="19" transform="translate(1757 1012) rotate(90)" textLength="139" lengthAdjust="spacingAndGlyphs">methodologies</text>
<g fill="#E6E7E8" stroke="#BE1E2D" stroke-width="2"><rect x="857.4" y="1205.5" width="291" height="28.5"/><rect x="1153" y="1205.5" width="288" height="28.5"/><rect x="1445" y="1205.5" width="290.6" height="28.5"/></g>
<text class="re" font-size="18" x="953" y="1226.7" textLength="101" lengthAdjust="spacingAndGlyphs">EMISSIONS</text>
<text class="re" font-size="18" x="1242" y="1226.7" textLength="109.5" lengthAdjust="spacingAndGlyphs">MITIGATION</text>
<text class="re" font-size="18" x="1530" y="1226.7" textLength="117.7" lengthAdjust="spacingAndGlyphs">ADAPTATION</text>
<rect x="1206" y="1288.7" width="181.7" height="42.5" fill="#BE1E2D"/>
<text class="b wh" font-size="19" x="1229" y="1316.7" textLength="136" lengthAdjust="spacingAndGlyphs">Climate Action</text>

<!-- ========== ACTORS ========== -->
<text class="b i br" font-size="16" x="1316" y="1377" textLength="63.6" lengthAdjust="spacingAndGlyphs">actor ID</text>
<g fill="none" stroke="#775F31">
<path stroke-width="3" d="M1297,1470 V1336 M1281,1353 L1297,1334 L1312.4,1353"/>
<path stroke-width="3.5" d="M1004.4,1531 V1395.5 H1589 V1420"/>
<path stroke-width="3.5" d="M1388,1535 H1491"/>
<path stroke-width="3.5" d="M1091.5,1593 H1295.4 V1575"/>
<path stroke-width="3.5" d="M1003,1628 V1645 H1295.4 V1654"/>
</g>
<g fill="none" stroke="#231f20" stroke-width="1" stroke-dasharray="4 3">
<path d="M1401,1683.3 H1447.5"/>
<path d="M1098,1613.3 H1462"/>
<path d="M1388.5,1558 H1462 V1661.6"/>
<path d="M1313,1575 V1654"/>
<path d="M1578,1623 V1661.6"/>
</g>
<g fill="#E6E7E8" stroke="#A8966F" stroke-width="1.2">
<rect x="918" y="1526" width="175" height="96"/>
<rect x="1212.7" y="1470" width="175.8" height="96"/>
<rect x="1209" y="1475" width="175" height="96"/>
<rect x="1499" y="1408" width="180" height="203"/>
<rect x="1496" y="1412" width="178" height="204"/>
<rect x="1494" y="1416" width="175" height="204"/>
</g>
<path class="ln" stroke="#775F31" stroke-width="3.5" d="M1589,1395.5 V1422"/>
<g fill="#E6E7E8" stroke="#8B7A50" stroke-width="2">
<rect x="916" y="1531" width="175.5" height="97"/>
<rect x="1206" y="1479" width="175" height="96"/>
</g>
<rect x="1491" y="1420" width="175" height="203" fill="#E6E7E8" stroke="#775F31" stroke-width="2.5"/>
<text class="b br" font-size="18" x="963" y="1557" textLength="83" lengthAdjust="spacingAndGlyphs">NATIONS</text>
<text class="k" font-size="14.5" x="927.6" y="1584" textLength="117.4" lengthAdjust="spacingAndGlyphs">195 Nation States</text>
<rect x="967.5" y="1596" width="69.5" height="20" rx="10" fill="#E6E7E8" stroke="#775F31" stroke-width="1.3"/>
<text class="b br" font-size="14" x="983" y="1610" textLength="40" lengthAdjust="spacingAndGlyphs">NDCs</text>
<text class="b br" font-size="18" x="1229" y="1504" textLength="133" lengthAdjust="spacingAndGlyphs">SUBNATIONAL</text>
<text class="k" font-size="14.5" x="1216" y="1538" textLength="129.6" lengthAdjust="spacingAndGlyphs">Province &amp; Regions</text>
<text class="k" font-size="14.5" x="1215.6" y="1555" textLength="37" lengthAdjust="spacingAndGlyphs">Cities</text>
<text class="b br" font-size="18" x="1529" y="1445" textLength="104.7" lengthAdjust="spacingAndGlyphs">NON-STATE</text>
<text class="k" font-size="14.5" x="1503.6" y="1472" textLength="143.4" lengthAdjust="spacingAndGlyphs">Individuals, investors,</text>
<text class="k" font-size="14.5" x="1503.6" y="1489" textLength="144.8" lengthAdjust="spacingAndGlyphs">national companies &amp;</text>
<text class="k" font-size="14.5" x="1503.6" y="1505.6" textLength="93" lengthAdjust="spacingAndGlyphs">organisations,</text>
<text class="k" font-size="14.5" x="1503.6" y="1522" textLength="87.4" lengthAdjust="spacingAndGlyphs">civil societies</text>
<rect x="1506.6" y="1539.4" width="134.4" height="69.6" fill="none" stroke="#B19A6A" stroke-width="1.5"/>
<text class="br" font-size="14.5" x="1526.6" y="1559.7" textLength="94.4" lengthAdjust="spacingAndGlyphs">Multi National</text>
<text class="br" font-size="14.5" x="1530" y="1574" textLength="88" lengthAdjust="spacingAndGlyphs">Corporations</text>
<text class="k" font-size="14.5" x="1514" y="1597" textLength="120.4" lengthAdjust="spacingAndGlyphs">eg. carbon majors</text>
<rect x="1192.7" y="1654" width="208.3" height="50.5" fill="#775F31"/>
<text class="b wh" font-size="18" x="1238.5" y="1675.6" textLength="108.5" lengthAdjust="spacingAndGlyphs">Paris COP21</text>
<text class="b wh" font-size="18" x="1206" y="1696" textLength="179" lengthAdjust="spacingAndGlyphs">Climate Agreement</text>
<rect x="1447.5" y="1661.6" width="233.5" height="43" fill="#fff" stroke="#58595b" stroke-width="1"/>
<text class="b dk" font-size="19" x="1460" y="1689" textLength="207.6" lengthAdjust="spacingAndGlyphs">Non-Paris Frameworks</text>

<!-- ========== EARTH ========== -->
<rect x="1147.7" y="1773.6" width="301.3" height="258.8" fill="#fff" stroke="#126B3C" stroke-width="1.3"/>
<path fill="none" stroke="#BE1E2D" stroke-width="3.5" stroke-dasharray="2 1" d="M1148,1932.5 H1170"/>
<g fill="#fff" stroke="#6FA685" stroke-width="1.5">
<rect x="1170" y="1798" width="253" height="43"/>
<rect x="1170" y="1856" width="253" height="43"/>
<rect x="1170" y="1914.6" width="253" height="42.5"/>
</g>
<path class="ln" stroke="#126B3C" stroke-width="3" d="M1298,1798 V1708 M1283,1724 L1298,1706 L1314.6,1724" />
<path fill="#fff" stroke="#6FA685" stroke-width="1.2" d="M1289,1798.5 L1298,1789 L1307,1798.5"/>
<path fill="#fff" stroke="#6FA685" stroke-width="1.2" d="M1289,1856.5 L1298,1847 L1307,1856.5"/>
<path fill="#fff" stroke="#6FA685" stroke-width="1.2" d="M1289,1915 L1298,1905 L1307,1915"/>
<rect x="1170" y="1972.5" width="253" height="42.5" fill="#126B3C"/>
<path fill="#126B3C" d="M1289,1973 L1298,1963 L1307,1973 Z"/>
<text class="b i gr" font-size="16" x="1308" y="1753" textLength="110" lengthAdjust="spacingAndGlyphs">science based</text>
<text class="b i gr" font-size="16" x="1308" y="1769" textLength="57.6" lengthAdjust="spacingAndGlyphs">targets</text>
<text class="gr" font-size="18" x="1241" y="1824" textLength="112" lengthAdjust="spacingAndGlyphs">IPCC Reports</text>
<text class="gr" font-size="18" x="1229" y="1883" textLength="135" lengthAdjust="spacingAndGlyphs">Climate Models</text>
<text class="gr" font-size="18" x="1217" y="1941" textLength="158" lengthAdjust="spacingAndGlyphs">Global Inventories</text>
<text class="b wh" font-size="18" x="1227.5" y="2000" textLength="142.5" lengthAdjust="spacingAndGlyphs">Climate System</text>
<text class="gr" font-size="14.5" x="1468" y="1814.6" textLength="164" lengthAdjust="spacingAndGlyphs">WG1 Consensus Results</text>
<text class="gr" font-size="14.5" x="1468" y="1836" textLength="154" lengthAdjust="spacingAndGlyphs">Science-based Targets</text>
<text class="gr" font-size="14.5" x="1468" y="1871.6" textLength="233" lengthAdjust="spacingAndGlyphs">Climate System &amp; Carbon Budget:</text>
<text class="gr" font-size="14.5" x="1468" y="1890.5" textLength="100.6" lengthAdjust="spacingAndGlyphs">IAMs &amp; Results</text>
<text class="gr" font-size="14.5" x="1468" y="1928.6" textLength="123" lengthAdjust="spacingAndGlyphs">Stocks &amp; RT Flows</text>
<text class="gr" font-size="14.5" x="1468" y="1947" textLength="209" lengthAdjust="spacingAndGlyphs">Eg. Upstream FF management</text>
<text class="gr" font-size="14.5" x="1468" y="2000" textLength="184" lengthAdjust="spacingAndGlyphs">Network &amp; Open Database</text>
</svg>
</body></html>
